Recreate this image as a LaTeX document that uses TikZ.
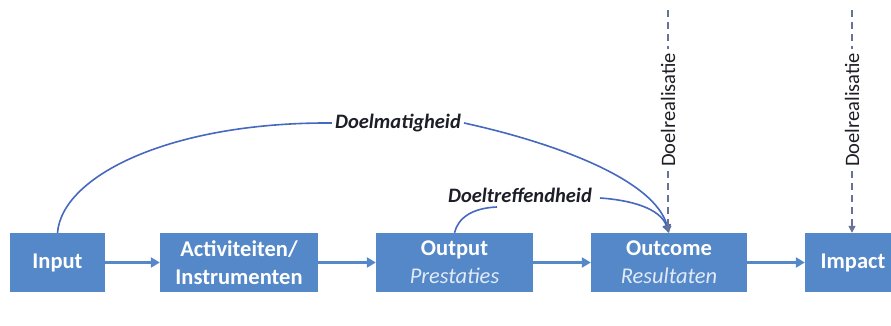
\documentclass[tikz,border=0pt]{standalone}
\usepackage{fontspec}
\setmainfont{Carlito}
\usetikzlibrary{arrows.meta}
\definecolor{boxblue}{RGB}{84,136,200}
\definecolor{curveblue}{RGB}{70,104,190}
\definecolor{dashgray}{RGB}{105,115,150}
\definecolor{textdark}{RGB}{30,30,40}
\definecolor{sublight}{RGB}{225,234,245}
\newcommand{\stagesub}[1]{{\mdseries\itshape\color{sublight}#1}}
\tikzset{
  stagebox/.style={fill=boxblue, draw=none, text=white, align=center,
    minimum height=59pt, inner sep=0pt,
    font=\fontsize{22.5}{28}\selectfont\bfseries},
  flowarrow/.style={draw=boxblue, line width=2.4pt, -{Triangle[length=9pt,width=10pt]}},
  curveline/.style={draw=curveblue, line width=1.6pt},
  curvearrow/.style={curveline, -{Triangle[length=8pt,width=8pt]}},
  dashline/.style={draw=dashgray, line width=1.4pt, dash pattern=on 7pt off 5pt},
  dasharrow/.style={dashline, -{Triangle[length=7pt,width=7pt]}},
  curvelabel/.style={text=textdark, inner sep=3pt, font=\fontsize{20.5}{22}\selectfont\bfseries\itshape},
  reallabel/.style={rotate=90, text=textdark, inner sep=4pt, font=\fontsize{20.5}{22}\selectfont}
}
\begin{document}
\begin{tikzpicture}[x=1pt,y=1pt]
\useasboundingbox (0,0) rectangle (891,326);
\clip (0,0) rectangle (891,326);
\fill[white] (0,0) rectangle (891,326);
% boxes
\node[stagebox, minimum width=95pt] (input) at (57.5,63.5) {Input};
\node[stagebox, minimum width=158pt] (act) at (239,63.5) {Activiteiten/\\Instrumenten};
\node[stagebox, minimum width=157pt] (output) at (454.5,63.5) {Output\\\stagesub{Prestaties}};
\node[stagebox, minimum width=156pt] (outcome) at (669,63.5) {Outcome\\\stagesub{Resultaten}};
\node[stagebox, minimum width=96pt] (impact) at (853,63.5) {Impact};
% flow arrows
\draw[flowarrow] (input) -- (act);
\draw[flowarrow] (act) -- (output);
\draw[flowarrow] (output) -- (outcome);
\draw[flowarrow] (outcome) -- (impact);
% curve labels
\node[curvelabel] (dm) at (398,203) {Doelmatigheid};
\node[curvelabel] (dt) at (520,131) {Doeltreffendheid};
\coordinate (dtin) at (497,119);
\coordinate (dtout) at (600,128);
% Doelmatigheid curve
\draw[curveline] (input.north) .. controls (62,150) and (170,204) .. (dm.west);
\draw[curvearrow] (dm.east) .. controls (560,182) and (655,145) .. (outcome.north);
% Doeltreffendheid curve
\draw[curveline] (output.north) .. controls (458,108) and (472,118) .. (dtin);
\draw[curvearrow] (dtout) .. controls (630,126) and (660,118) .. (outcome.north);
% Doelrealisatie dashed lines
\coordinate (top1) at (668,316);
\coordinate (top2) at (852,316);
\node[reallabel, anchor=west] (dr1) at (668,155) {Doelrealisatie};
\node[reallabel, anchor=west] (dr2) at (852,155) {Doelrealisatie};
\draw[dashline] (top1) -- (dr1.east);
\draw[dasharrow] (dr1.west) -- (outcome.north -| dr1.west);
\draw[dashline] (top2) -- (dr2.east);
\draw[dasharrow] (dr2.west) -- (impact.north -| dr2.west);
\end{tikzpicture}
\end{document}
